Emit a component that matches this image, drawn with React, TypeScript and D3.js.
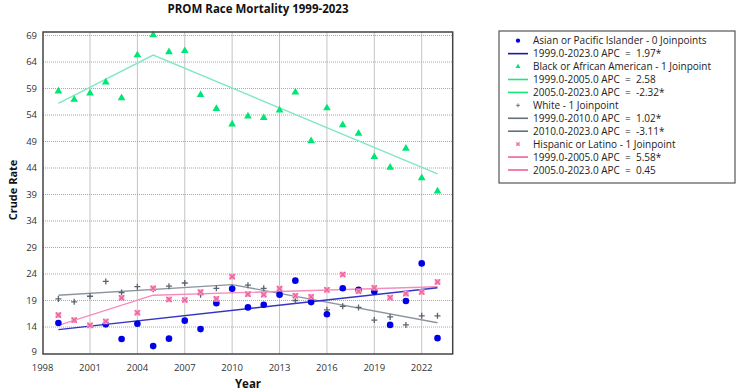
import * as d3 from "d3";

const years = d3.range(1999, 2024);

// crude rates (null = not shown)
const asian = [14.75, null, null, 14.5, 11.75, 14.6, 10.4, 11.8, 15.2, 13.6, 18.5, 21.2, 17.7, 18.2, 20.1, 22.75, 18.7, 16.4, 21.3, 21.0, 20.7, 14.4, 18.9, 26.0, 11.9];
const black = [58.5, 56.9, 58.1, 60.2, 57.2, 65.3, 69.1, 65.9, 66.1, 57.8, 55.2, 52.25, 53.75, 53.5, 54.9, 58.3, 49.1, 55.3, 52.1, 50.5, 46.1, 44.1, 47.7, 42.1, 39.6];
const white = [19.3, 18.75, 19.8, 22.6, 20.5, 21.6, 21.1, 21.7, 22.3, 20.1, 21.3, 21.4, 21.9, 21.3, 20.4, 19.0, 18.8, 17.25, 17.9, 17.7, 15.3, 15.9, 14.4, 16.1, 16.1];
const hispanic = [16.25, 15.3, 14.3, 15.05, 19.5, 16.7, 21.3, 19.2, 19.1, 20.6, 19.3, 23.5, 20.2, 20.1, 21.25, 19.9, 19.7, 21.0, 23.9, 20.75, 21.4, 19.55, 20.3, 20.6, 22.5];

// fitted joinpoint segments: [year, rate]
const asianFit = [[1999, 13.5], [2023, 21.4]];
const blackFit = [[1999, 56.2], [2005, 65.3], [2023, 42.9]];
const whiteFit = [[1999, 20.0], [2010, 22.0], [2023, 14.8]];
const hispanicFit = [[1999, 14.3], [2005, 20.0], [2023, 21.6]];

const yTicks = d3.range(9, 70, 5);
const xTicks = d3.range(1998, 2024, 3);

const S = "\u00a0";
const legendRows = [
  { kind: "circle", color: "#0000e6", text: "Asian or Pacific Islander - 0 Joinpoints" },
  { kind: "line", color: "#1a1a9e", text: `1999.0-2023.0 APC${S}${S}=${S}${S}1.97*` },
  { kind: "triangle", color: "#00e676", text: "Black or African American - 1 Joinpoint" },
  { kind: "line", color: "#1fe67a", text: `1999.0-2005.0 APC${S}${S}=${S}${S}2.58` },
  { kind: "line", color: "#1fe67a", text: `2005.0-2023.0 APC${S}${S}=${S}${S}-2.32*` },
  { kind: "plus", color: "#5a6470", text: "White - 1 Joinpoint" },
  { kind: "line", color: "#5f7080", text: `1999.0-2010.0 APC${S}${S}=${S}${S}1.02*` },
  { kind: "line", color: "#5f7080", text: `2010.0-2023.0 APC${S}${S}=${S}${S}-3.11*` },
  { kind: "cross", color: "#f0609e", text: "Hispanic or Latino - 1 Joinpoint" },
  { kind: "line", color: "#f0609e", text: `1999.0-2005.0 APC${S}${S}=${S}${S}5.58*` },
  { kind: "line", color: "#f0609e", text: `2005.0-2023.0 APC${S}${S}=${S}${S}0.45` },
];

const font = "'Open Sans', 'Noto Sans', sans-serif";

function Marker({ kind, x, y, color }: { kind: string; x: number; y: number; color: string }) {
  if (kind === "circle") return <circle cx={x} cy={y} r={3.3} fill={color} />;
  if (kind === "triangle")
    return <path d={d3.symbol().type(d3.symbolTriangle).size(26)()!} transform={`translate(${x},${y})`} fill={color} />;
  if (kind === "plus")
    return (
      <path d={`M${x - 3},${y}H${x + 3}M${x},${y - 3}V${y + 3}`} stroke={color} strokeWidth={1.3} fill="none" />
    );
  return (
    <g>
      <rect x={x - 2.8} y={y - 2.8} width={5.6} height={5.6} fill="#f7a6c8" />
      <path d={`M${x - 2.6},${y - 2.6}L${x + 2.6},${y + 2.6}M${x + 2.6},${y - 2.6}L${x - 2.6},${y + 2.6}`} stroke={color} strokeWidth={1.3} />
    </g>
  );
}

export default function App() {
  const width = 738;
  const height = 392;
  const left = 43, right = 452.7, top = 32, bottom = 354;

  const x = d3.scaleLinear().domain([1998, 2024]).range([42.6, 453.3]);
  const y = d3.scaleLinear().domain([9, 69]).range([353.5, 35.5]);

  const line = d3.line<number[]>().x(d => x(d[0])).y(d => y(d[1]));

  const series = [
    { vals: white, kind: "plus", color: "#5a6470" },
    { vals: black, kind: "triangle", color: "#00e676" },
    { vals: asian, kind: "circle", color: "#0000e6" },
    { vals: hispanic, kind: "cross", color: "#f0609e" },
  ];

  const fits = [
    { pts: blackFit, color: "#7ee8c2" },
    { pts: whiteFit, color: "#8c959e" },
    { pts: hispanicFit, color: "#f58cbc" },
    { pts: asianFit, color: "#3434c4" },
  ];

  return (
    <svg width={width} height={height} style={{ position: "absolute", left: 0, top: 0, background: "#fff" }} fontFamily={font}>
      <text x={258} y={13} textAnchor="middle" fontSize={11.5} fontWeight={700} fill="#111">
        PROM Race Mortality 1999-2023
      </text>

      {/* grid */}
      {xTicks.filter(t => t > 1998).map(t => (
        <line key={t} x1={x(t)} x2={x(t)} y1={top} y2={bottom} stroke="#c4c4c4" strokeWidth={1} />
      ))}
      {yTicks.filter(t => t > 9).map(t => (
        <line key={t} x1={left} x2={right} y1={y(t)} y2={y(t)} stroke="#a8a8a8" strokeWidth={1} strokeDasharray="1,1" />
      ))}

      {/* fitted lines */}
      {fits.map((f, i) => (
        <path key={i} d={line(f.pts)!} fill="none" stroke={f.color} strokeWidth={1.4} />
      ))}

      {/* observed points */}
      {series.map((s, i) => (
        <g key={i}>
          {s.vals.map((v, j) =>
            v == null ? null : <Marker key={j} kind={s.kind} x={x(years[j])} y={y(v)} color={s.color} />
          )}
        </g>
      ))}

      <rect x={left} y={top} width={right - left} height={bottom - top} fill="none" stroke="#444" strokeWidth={1.5} />

      {/* axes labels */}
      {yTicks.map(t => (
        <text key={t} x={37} y={t === 9 ? y(t) - 1.5 : y(t)} dy="0.35em" textAnchor="end" fontSize={9.5} fill="#333">{t}</text>
      ))}
      {xTicks.map(t => (
        <text key={t} x={x(t)} y={370.5} textAnchor="middle" fontSize={9.5} fill="#333">{t}</text>
      ))}
      <text x={248} y={388} textAnchor="middle" fontSize={11.5} fontWeight={700} fill="#111">Year</text>
      <text transform="translate(17,190) rotate(-90)" textAnchor="middle" fontSize={11} fontWeight={700} fill="#111">Crude Rate</text>

      {/* legend */}
      <rect x={499} y={31} width={236} height={152} fill="#fff" stroke="#555" strokeWidth={1.2} />
      {legendRows.map((r, i) => {
        const ly = 40.7 + i * 12.93;
        return (
          <g key={i}>
            {r.kind === "line" ? (
              <line x1={508} x2={528} y1={ly} y2={ly} stroke={r.color} strokeWidth={1.6} />
            ) : (
              <g transform={`translate(518,${ly}) scale(0.65) translate(-518,${-ly})`}>
                <Marker kind={r.kind} x={518} y={ly} color={r.color} />
              </g>
            )}
            <text x={533} y={ly} dy="0.35em" fontSize={10} fill="#222">{r.text}</text>
          </g>
        );
      })}
    </svg>
  );
}
